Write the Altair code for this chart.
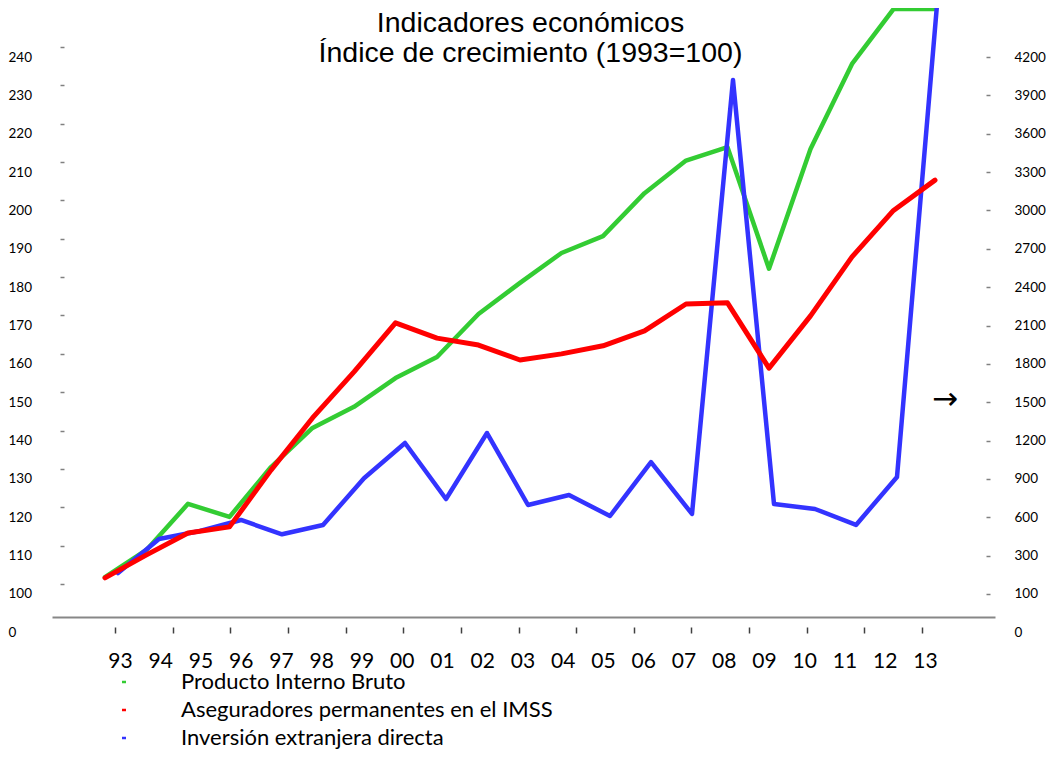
import altair as alt
import pandas as pd

# ---------------- data ----------------
years = list(range(1993, 2014))
x_labels = ["93", "94", "95", "96", "97", "98", "99", "00", "01", "02", "03",
            "04", "05", "06", "07", "08", "09", "10", "11", "12", "13"]
x_tick_slots = list(range(15))

series = ["Producto Interno Bruto",
          "Aseguradores permanentes en el IMSS",
          "Inversión extranjera directa"]
colors = ["#33CC33", "#FF0000", "#3333FF"]

pib = [104.4, 111.5, 123.5, 120.1, 133.1, 143.3, 148.8, 156.3, 161.8, 173.0, 181.1,
       188.9, 193.3, 204.5, 213.0, 216.5, 184.8, 216.0, 238.2, 252.5, 252.5]
imss = [104.2, 110.2, 115.9, 117.5, 132.3, 145.9, 157.9, 170.7, 166.7, 164.9, 161.0,
        162.6, 164.7, 168.6, 175.6, 175.9, 158.9, 172.5, 187.9, 200.0, 207.9]
ied = [164, 430, 493, 579, 467, 540, 905, 1181, 743, 1259, 696,
       774, 610, 1032, 626, 4020, 704, 665, 540, 915, 4700]

left_values = [90, 100, 110, 120, 130, 140, 150, 160, 170, 180, 190, 200, 210, 220, 230, 240]
left_labels = ["0", "100", "110", "120", "130", "140", "150", "160", "170", "180",
               "190", "200", "210", "220", "230", "240"]
right_values = [-300, 0, 300, 600, 900, 1200, 1500, 1800, 2100, 2400, 2700, 3000,
                3300, 3600, 3900, 4200]
right_labels = ["0", "100", "300", "600", "900", "1200", "1500", "1800", "2100", "2400",
                "2700", "3000", "3300", "3600", "3900", "4200"]

arrow_text = ["→"]
arrow_year = [2013.24]
arrow_value = [150.5]

title_lines = ["Indicadores económicos", "Índice de crecimiento (1993=100)"]

# ---------------- tables ----------------
df = pd.DataFrame({
    "year": years * 3,
    "serie": [series[0]] * len(years) + [series[1]] * len(years) + [series[2]] * len(years),
    "value": pib + imss + ied,
})
df_ticks = pd.DataFrame({"k": x_tick_slots})
df_labels = pd.DataFrame({"lab": x_labels})
df_arrow = pd.DataFrame({"t": arrow_text, "year": arrow_year, "value": arrow_value})


def label_expr(vals, labs):
    v = "[" + ",".join(str(x) for x in vals) + "]"
    l = "[" + ",".join("'" + s + "'" for s in labs) + "]"
    return f"{l}[indexof({v}, datum.value)]"


FONT = "Lato"

x_main = alt.Scale(domain=[1991.7229, 2014.4458], nice=False, zero=False)
x_ied = alt.Scale(domain=[1991.3902, 2014.3902], nice=False, zero=False)
y_left = alt.Scale(domain=[88.007, 252.775], nice=False, zero=False)
y_right = alt.Scale(domain=[-359.8, 4583.3], nice=False, zero=False)

color = alt.Color(
    "serie:N",
    scale=alt.Scale(domain=series, range=colors),
    legend=alt.Legend(
        title=None, orient="none", legendX=61, legendY=663, direction="vertical",
        symbolType="stroke", symbolSize=16, symbolStrokeWidth=2.5,
        labelFont=FONT, labelFontSize=22, labelColor="#000000",
        labelOffset=46, rowPadding=6, padding=0, labelLimit=600,
    ),
)

left_axis = alt.Axis(
    orient="left", values=left_values, labelExpr=label_expr(left_values, left_labels),
    domain=False, grid=False, offset=-12, tickSize=4, tickWidth=1.5, tickColor="#808080",
    tickOffset=-10, labelOffset=10, labelPadding=52, labelAlign="left",
    labelFont=FONT, labelFontSize=13.5, labelColor="#000000", labelFlush=False,
    labelOverlap=False, title=None,
    tickOpacity={"condition": {"test": "datum.value < 95", "value": 0}, "value": 1},
)
right_axis = alt.Axis(
    orient="right", values=right_values, labelExpr=label_expr(right_values, right_labels),
    domain=False, grid=False, offset=-9, tickSize=4, tickWidth=1.5, tickColor="#808080",
    labelPadding=24, labelAlign="left",
    labelFont=FONT, labelFontSize=13.5, labelColor="#000000", labelFlush=False,
    labelOverlap=False, title=None,
    tickOpacity={"condition": {"test": "datum.value < -100", "value": 0}, "value": 1},
)
base_axis = alt.Axis(
    orient="bottom", offset=-23, domain=True, domainColor="#878787", domainWidth=2,
    ticks=False, labels=False, grid=False, title=None,
)
tick_axis = alt.Axis(
    orient="bottom", offset=-13, domain=False, ticks=True, tickSize=6, tickWidth=1.5,
    tickColor="#404040", labels=False, grid=False, title=None,
)
label_axis = alt.Axis(
    orient="bottom", offset=0, domain=False, ticks=False, tickSize=0, labelPadding=21,
    labelBaseline="middle", labelFont=FONT, labelFontSize=21, labelColor="#000000",
    labelAngle=0, labelFlush=False, labelOverlap=False, grid=False, title=None,
)

line_kw = dict(strokeCap="round", strokeJoin="round", clip=True)

green = alt.Chart(df).transform_filter(alt.datum.serie == series[0]).mark_line(
    strokeWidth=4.5, **line_kw).encode(
    x=alt.X("year:Q", scale=x_main, axis=base_axis),
    y=alt.Y("value:Q", scale=y_left, axis=left_axis),
    color=color,
)
blue = alt.Chart(df).transform_filter(alt.datum.serie == series[2]).mark_line(
    strokeWidth=4.5, **line_kw).encode(
    x=alt.X("year:Q", scale=x_ied, axis=None),
    y=alt.Y("value:Q", scale=y_right, axis=right_axis),
    color=color,
)
red = alt.Chart(df).transform_filter(alt.datum.serie == series[1]).mark_line(
    strokeWidth=5, **line_kw).encode(
    x=alt.X("year:Q", scale=x_main, axis=None),
    y=alt.Y("value:Q", scale=y_left, axis=None),
    color=color,
)
ticks = alt.Chart(df_ticks).mark_point(opacity=0).encode(
    x=alt.X("k:O", scale=alt.Scale(domain=x_tick_slots, range=[63, 870], padding=0),
            axis=tick_axis),
)
labels = alt.Chart(df_labels).mark_point(opacity=0).encode(
    x=alt.X("lab:O", sort=None, scale=alt.Scale(domain=x_labels, range=[68, 873], padding=0),
            axis=label_axis),
)
arrow = alt.Chart(df_arrow).mark_text(font="DejaVu Sans", fontSize=31, color="#000000").encode(
    x=alt.X("year:Q", scale=x_main, axis=None),
    y=alt.Y("value:Q", scale=y_left, axis=None),
    text="t:N",
)

chart = alt.layer(green, blue, red, ticks, labels, arrow).resolve_scale(
    x="independent", y="independent", color="shared"
).properties(
    width=943, height=632,
    padding={"left": 44, "top": 0, "right": 51, "bottom": 109},
    autosize=alt.AutoSizeParams(type="none"),
    title=alt.Title(title_lines, font="Liberation Sans", fontSize=28.5, fontWeight="normal",
                    color="#000000", anchor="middle", baseline="top", offset=-59,
                    lineHeight=30, dx=7),
).configure_view(stroke=None)

chart.save("out.html", embed_options={"renderer": "svg", "actions": False})
